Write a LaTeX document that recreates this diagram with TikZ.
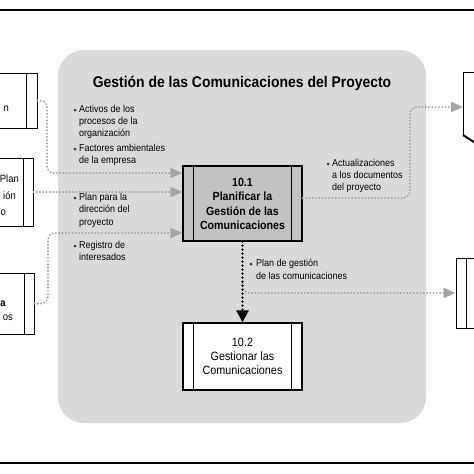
\documentclass[tikz,border=0pt]{standalone}
\usepackage{fontspec}
\setmainfont[FakeStretch=0.9]{Liberation Sans}
\usetikzlibrary{arrows.meta}
\definecolor{panelgray}{RGB}{218,218,218}
\definecolor{procgray}{RGB}{194,194,194}
\definecolor{dotgray}{RGB}{165,165,165}
\newcommand{\mylblfont}{\fontsize{10}{12}\selectfont}
\begin{document}
\begin{tikzpicture}[x=1pt,y=-1pt,
  box/.style={draw=black, line width=0.9pt, inner sep=0pt, fill=white},
  proc/.style={draw=black, line width=1.3pt, inner sep=0pt, minimum width=119pt},
  sepline/.style={line width=0.9pt},
  gdot/.style={draw=dotgray, line width=2.2pt, dash pattern=on 0pt off 3.3pt, line cap=round, rounded corners=7pt, -{Triangle[length=12pt,width=10pt,fill=dotgray]}},
  kdot/.style={draw=black, line width=2.6pt, dash pattern=on 0pt off 4pt, line cap=round, -{Triangle[length=12pt,width=12pt]}},
  lbl/.style={anchor=base west, inner sep=0pt},
  cut/.style={anchor=base east, inner sep=0pt, font=\fontsize{10.5}{12}\selectfont},
  bul/.style={fill=black!80},
]
\useasboundingbox (0,0) rectangle (474,474);
\clip (0,0) rectangle (474,474);
% frame lines
\draw[line width=2pt] (-5,10) -- (480,10);
\draw[line width=2pt] (-5,463) -- (480,463);
% panel
\fill[panelgray, rounded corners=26pt] (58,50) rectangle (426,423);
\node[anchor=base, inner sep=0pt, font=\bfseries\fontsize{15.5}{18}\selectfont] (title) at (242,87) {Gestión de las Comunicaciones del Proyecto};
% left boxes
\node[box, minimum width=60pt, minimum height=55pt] (b1) at (7,100.5) {};
\draw[sepline] ([xshift=-11pt]b1.north east) -- ([xshift=-11pt]b1.south east);
\node[cut] (t1) at (9,111) {n};
\node[box, minimum width=60pt, minimum height=68pt] (b2) at (3,192) {};
\draw[sepline] ([xshift=-10pt]b2.north east) -- ([xshift=-10pt]b2.south east);
\node[cut] (t2a) at (19,182) {Plan};
\node[cut] (t2b) at (16,199) {ión};
\node[cut] (t2c) at (6,215) {o};
\node[box, minimum width=60pt, minimum height=61pt] (b3) at (4,303.5) {};
\draw[sepline] ([xshift=-10pt]b3.north east) -- ([xshift=-10pt]b3.south east);
\node[anchor=base west, inner sep=0pt, font=\bfseries\fontsize{10.5}{12}\selectfont] (t3a) at (0.3,306) {a};
\node[cut] (t3b) at (13,320) {os};
% right boxes
\draw[sepline] (490,72) -- (463,72) -- (463,135);
\draw[line width=2pt] (463,135) -- (480,146);
\coordinate (r1) at (463,107);
\node[box, minimum width=60pt, minimum height=70pt] (r2) at (486,293) {};
\draw[sepline] ([xshift=11pt]r2.north west) -- ([xshift=11pt]r2.south west);
% processes
\node[proc, fill=procgray, minimum height=75pt] (p1) at (242.5,203.5) {};
\draw[line width=1.1pt] ([xshift=11pt]p1.north west) -- ([xshift=11pt]p1.south west);
\draw[line width=1.1pt] ([xshift=-11pt]p1.north east) -- ([xshift=-11pt]p1.south east);
\node[anchor=base, inner sep=0pt] (p1t) at (242.5,186) {\parbox[t]{115pt}{\centering\bfseries\fontsize{11.8}{14.5}\selectfont 10.1\\Planificar la\\Gestión de las\\Comunicaciones}};
\node[proc, fill=white, minimum height=67pt] (p2) at (242.5,356.5) {};
\draw[line width=1.1pt] ([xshift=11pt]p2.north west) -- ([xshift=11pt]p2.south west);
\draw[line width=1.1pt] ([xshift=-11pt]p2.north east) -- ([xshift=-11pt]p2.south east);
\node[anchor=base, inner sep=0pt] (p2t) at (242.5,346) {\parbox[t]{115pt}{\centering\fontsize{12}{14}\selectfont 10.2\\Gestionar las\\Comunicaciones}};
% connectors
\draw[gdot] (b1.east) -| (47,173) -- (p1.west |- 0,173);
\draw[gdot] (b2.east) -- (p1.west |- b2.east);
\draw[gdot] (b3.east) -| (48,233) -- (p1.west |- 0,233);
\draw[gdot] (p1.east |- 0,198) -| (410,107) -- (r1);
\coordinate (br) at (242.5,283);
\draw[gdot] (br) |- (r2.west);
\draw[kdot] (p1.south) -- (p2.north);
% labels
\fill[bul] (75,110) circle (1.5pt);
\node[lbl] (l1) at (79,112.5) {\parbox[t]{100pt}{\raggedright\mylblfont Activos de los\\procesos de la\\organización}};
\fill[bul] (75,149) circle (1.5pt);
\node[lbl] (l2) at (79,151.5) {\parbox[t]{100pt}{\raggedright\mylblfont Factores ambientales\\de la empresa}};
\fill[bul] (75,198) circle (1.5pt);
\node[lbl] (l3) at (79,200.5) {\parbox[t]{100pt}{\raggedright\fontsize{10}{12.3}\selectfont Plan para la\\dirección del\\proyecto}};
\fill[bul] (75,246) circle (1.5pt);
\node[lbl] (l4) at (79,248.5) {\parbox[t]{100pt}{\raggedright\mylblfont Registro de\\interesados}};
\fill[bul] (328,164) circle (1.5pt);
\node[lbl] (l5) at (332,166.5) {\parbox[t]{100pt}{\raggedright\mylblfont Actualizaciones\\a los documentos\\del proyecto}};
\fill[bul] (251,264) circle (1.5pt);
\node[lbl] (l6) at (256,266.5) {\parbox[t]{120pt}{\raggedright\fontsize{10}{13}\selectfont Plan de gestión\\de las comunicaciones}};
\end{tikzpicture}
\end{document}
